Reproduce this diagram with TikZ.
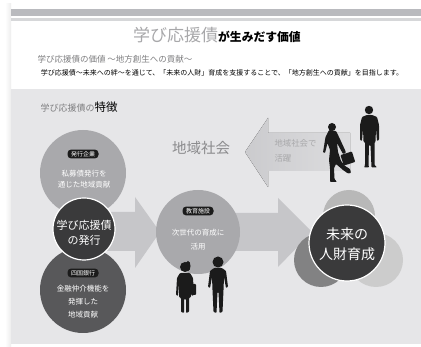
\documentclass[tikz,border=0pt]{standalone}
\usepackage{fontspec}
\setmainfont{Noto Sans CJK JP}
\usetikzlibrary{calc}
\definecolor{panel}{HTML}{E6E6E8}
\definecolor{barA}{HTML}{B9BABE}
\definecolor{barB}{HTML}{D6D7D9}
\definecolor{midgrey}{HTML}{A9A9AC}
\definecolor{darkgrey}{HTML}{58585A}
\definecolor{coal}{HTML}{3A3A3B}
\definecolor{arrowgrey}{HTML}{C6C6C9}
\definecolor{titlegrey}{HTML}{A8A8AA}
\definecolor{subgrey}{HTML}{7E7E80}
\definecolor{ink}{HTML}{1B1B1B}

\begin{document}
\begin{tikzpicture}[x=1pt,y=-1pt,
    tag/.style={fill=ink,text=white,rounded corners=3.5pt,inner xsep=3.5pt,inner ysep=1.6pt,font=\fontsize{6}{6}\selectfont},
    note/.style={text=white,align=center},
    disc/.style={circle,inner sep=0pt},
    figure/.style={fill=ink,rounded corners=0.8pt}]
  \useasboundingbox (0,0) rectangle (421,347);
  \fill[white] (0,0) rectangle (421,347);
  \shade[left color=white,right color=black!7] (5,4) rectangle (11,347);
  \fill[barA] (11,9) rectangle (421,16);
  \fill[barB] (11,18) rectangle (421,21);
  \fill[panel] (11,89) rectangle (421,344);

  % headings
  \node (title) at (217,35) {{\color{titlegrey}\fontsize{17}{17}\selectfont 学び応援債}{\bfseries\fontsize{11.8}{12}\selectfont が生みだす価値}};
  \node[anchor=west,text=subgrey,font=\fontsize{8.5}{9}\selectfont] (sub) at (34,59) {学び応援債の価値 ～地方創生への貢献～};
  \node[font=\fontsize{7}{7}\selectfont] (lead) at (222,73) {学び応援債～未来への絆～を通じて、「未来の人財」育成を支援することで、「地方創生への貢献」を目指します。};
  \node[anchor=west] (feat) at (37,107) {{\color{subgrey}\fontsize{9}{9}\selectfont 学び応援債の}{\fontsize{11.5}{12}\selectfont 特徴}};

  % arrows
  \fill[arrowgrey] (105,212) -- (135,212) -- (135,197) -- (160,232) -- (135,268) -- (135,251) -- (105,251) -- cycle;
  \fill[arrowgrey] (230,213) -- (278,213) -- (278,198) -- (312,232) -- (278,267) -- (278,251) -- (230,251) -- cycle;
  \fill[left color=arrowgrey!85!panel,right color=panel!96!black] (245,152) -- (268,118) -- (268,133) -- (350,133)
       -- (350,171) -- (268,171) -- (268,187) -- cycle;
  \node[anchor=west,text=titlegrey,align=left,font=\fontsize{8.4}{15}\selectfont] (katsu) at (271,151) {地域社会で\\活躍};
  \node[text=subgrey!90,font=\fontsize{14.5}{15}\selectfont] (chiiki) at (201,148) {地域社会};

  % circles
  \node[disc,fill=midgrey,minimum size=86pt] (kigyo) at (83,173) {};
  \node[disc,fill=darkgrey,minimum size=86pt] (ginko) at (83,290) {};
  \node[disc,fill=coal,draw=white,line width=1.2pt,minimum size=62pt] (hakko) at (84,229) {};
  \node[disc,fill=midgrey,minimum size=84pt] (kyoiku) at (198,232) {};
  \node[disc,fill=black!28,minimum size=52pt] (miraiA) at (349,216) {};
  \node[disc,fill=darkgrey!75,minimum size=54pt] (miraiB) at (321,260) {};
  \node[disc,fill=black!20,minimum size=54pt] (miraiC) at (376,260) {};
  \node[disc,fill=coal,draw=white,line width=1.2pt,minimum size=76pt] (mirai) at (347,243) {};

  % circle texts
  \foreach \N/\P/\T in {tkigyo/{(83,154)}/発行企業, tginko/{(83,273)}/四国銀行, tkyoiku/{(198,211)}/教育施設}{
    \node[tag] (\N) at \P {\T};
  }
  \node[note,font=\fontsize{7.5}{11.5}\selectfont] (skigyo) at (84,179) {私募債発行を\\通じた地域貢献};
  \node[note,font=\fontsize{7.5}{13}\selectfont] (sginko) at (83,302) {金融仲介機能を\\発揮した\\地域貢献};
  \node[note,font=\fontsize{7.5}{14}\selectfont] (skyoiku) at (198,240) {次世代の育成に\\活用};
  \node[note,font=\fontsize{11}{15.5}\selectfont] (shakko) at (84,233) {学び応援債\\の発行};
  \node[note,font=\fontsize{14}{20}\selectfont] (smirai) at (347,244) {未来の\\人財育成};

  % people
  \fill[figure] (369,110) circle[radius=4.2pt];
  \fill[figure] (367,115) -- (372,115) -- (377,117) -- (379,125) -- (379,140) -- (377,141) -- (376,128) -- (375.5,142)
       -- (374.5,142) -- (374.5,165) -- (377,167.5) -- (371.5,167.5) -- (370.5,145) -- (369,145) -- (368.5,165)
       -- (369,167.5) -- (364,167.5) -- (365,165) -- (365,142) -- (363.5,142) -- (363,128) -- (362,141)
       -- (360,140) -- (360,125) -- (362,117) -- cycle;
  \fill[figure] (332,127) circle[radius=4pt];
  \fill[figure] (329,130) -- (336,131) -- (339,137) -- (345,150) -- (346,153) -- (343,154) -- (337,143) -- (338,152)
       -- (341,161) -- (345,166) -- (350,169) -- (351,173) -- (348,173.5) -- (343,170) -- (336,164) -- (334,168)
       -- (334.5,179) -- (337,182) -- (330,182) -- (330,168) -- (329,160) -- (330,150) -- (327.5,143) -- (325,153)
       -- (323,152.5) -- (325.5,137) -- cycle;
  \fill[figure,rotate around={18:(348,159)}] (342,153) rectangle (354,164);
  \fill[figure] (185,267) circle[radius=5pt];
  \fill[figure] (188,266) ellipse[x radius=2.5pt,y radius=5pt];
  \fill[figure] (180,273) -- (190,273) -- (193,278) -- (194,295) -- (192,296) -- (191,283) -- (191,297) -- (189,298)
       -- (189,312) -- (186,313) -- (186,299) -- (184,299) -- (184,313) -- (181,312) -- (181,298) -- (179,297)
       -- (179,283) -- (178,296) -- (176,295) -- (177,278) -- cycle;
  \fill[figure] (191,284) rectangle (196,295);
  \fill[figure] (218,262) circle[radius=5.5pt];
  \fill[figure] (214,268) -- (222,268) -- (226,271) -- (228,287) -- (226,288) -- (224,277) -- (223.5,290)
       -- (222.5,312) -- (219.5,313) -- (218.5,292) -- (217.5,292) -- (216.5,313) -- (213.5,312) -- (212.5,290)
       -- (212,277) -- (210,288) -- (208,287) -- (210,271) -- cycle;
\end{tikzpicture}
\end{document}
